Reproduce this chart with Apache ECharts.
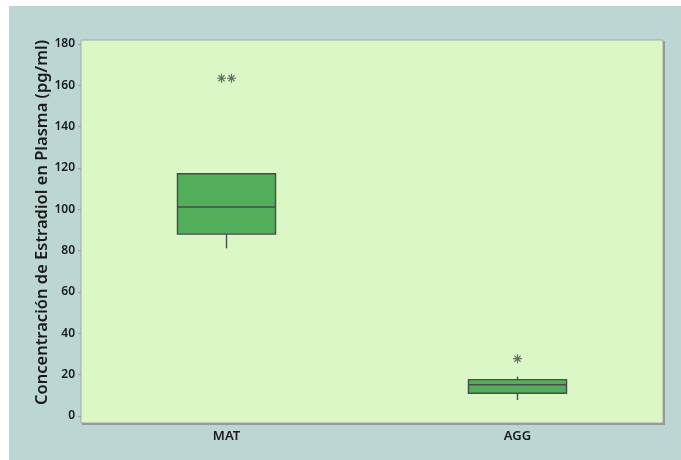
<!DOCTYPE html>
<html>
<head>
<meta charset="utf-8">
<script src="https://cdn.jsdelivr.net/npm/echarts@6/dist/echarts.min.js"></script>
<style>
  html, body { margin: 0; padding: 0; background: #ffffff; }
  #chart { position: absolute; left: 9px; top: 6px; width: 672px; height: 454px; }
</style>
</head>
<body>
<div id="chart"></div>
<script>
// Groups on the horizontal axis
const categories = ['MAT', 'AGG'];
// Box statistics per group: [lower whisker, Q1, median, Q3, upper whisker]
const boxStats = [
  [81.1, 88.0, 101.1, 117.2, 117.2],
  [7.7, 11.0, 15.1, 17.6, 19.0]
];
// Outliers: [group index, value, horizontal jitter in px]
const outlierGroup = [0, 0, 1];
const outlierValue = [163.4, 163.4, 27.7];
const outlierJitter = [-5, 5, 0];
// Tick labels of the vertical axis
const yTicks = [0, 20, 40, 60, 80, 100, 120, 140, 160, 180];

const chart = echarts.init(document.getElementById('chart'), null, { renderer: 'canvas' });

const boxData = boxStats.map((s, i) => [i].concat(s));
const outlierData = outlierValue.map((v, i) => ({
  value: [outlierGroup[i], v],
  symbolOffset: [outlierJitter[i], 0]
}));

const asterisk = 'path://M0,5L10,5M5,0L5,10M1.6,1.6L8.4,8.4M8.4,1.6L1.6,8.4';
const fontFamily = '"Noto Sans", "Open Sans", sans-serif';

chart.setOption({
  backgroundColor: '#bbd6d3',
  animation: false,
  grid: {
    left: 72, top: 34, right: 18, bottom: 37,
    show: true,
    backgroundColor: '#dbf7c5',
    borderColor: '#a6a6a6',
    borderWidth: 1
  },
  xAxis: {
    type: 'category',
    data: categories,
    boundaryGap: true,
    axisLine: { show: false, onZero: false },
    axisTick: { show: true, alignWithLabel: true, length: 3, lineStyle: { color: '#a0a0a0' } },
    axisLabel: { color: '#1a1a1a', fontSize: 13, fontWeight: 600, fontFamily: fontFamily, margin: 7 },
    splitLine: { show: false }
  },
  yAxis: {
    type: 'value',
    min: -3.4,
    max: 181.9,
    name: 'Concentración de Estradiol en Plasma (pg/ml)',
    nameLocation: 'middle',
    nameGap: 30,
    nameMoveOverlap: false,
    nameTextStyle: { color: '#1a1a1a', fontSize: 16.5, fontWeight: 600, fontFamily: fontFamily, padding: [0, 0, 0, 18] },
    axisLine: { show: false },
    axisTick: { show: true, length: 3, customValues: yTicks, lineStyle: { color: '#a0a0a0' } },
    axisLabel: { color: '#1a1a1a', fontSize: 12, fontWeight: 600, fontFamily: fontFamily, margin: 6, customValues: yTicks },
    splitLine: { show: false }
  },
  series: [
    {
      // Right and bottom shadow edge of the plot frame
      type: 'custom',
      silent: true,
      data: [[0]],
      renderItem: function (params, api) {
        const cs = params.coordSys;
        const r = cs.x + cs.width, b = cs.y + cs.height;
        const st = { stroke: '#9a9a9a', lineWidth: 2 };
        return {
          type: 'group',
          children: [
            { type: 'line', shape: { x1: r + 1, y1: cs.y + 1, x2: r + 1, y2: b + 2 }, style: st },
            { type: 'line', shape: { x1: cs.x + 1, y1: b + 1, x2: r + 2, y2: b + 1 }, style: st }
          ]
        };
      },
      z: 1
    },
    {
      type: 'custom',
      data: boxData,
      encode: { x: 0, y: [1, 2, 3, 4, 5] },
      renderItem: function (params, api) {
        const c = api.value(0);
        const lo = api.coord([c, api.value(1)]);
        const q1 = api.coord([c, api.value(2)]);
        const md = api.coord([c, api.value(3)]);
        const q3 = api.coord([c, api.value(4)]);
        const hi = api.coord([c, api.value(5)]);
        const half = api.size([1, 0])[0] * 0.337 / 2;
        const x = q1[0];
        const stroke = { stroke: '#4b4b4b', lineWidth: 1.4 };
        const children = [];
        if (lo[1] - q1[1] > 0.5) {
          children.push({ type: 'line', shape: { x1: x, y1: q1[1], x2: x, y2: lo[1] }, style: stroke });
        }
        if (q3[1] - hi[1] > 0.5) {
          children.push({ type: 'line', shape: { x1: x, y1: q3[1], x2: x, y2: hi[1] }, style: stroke });
        }
        children.push({
          type: 'rect',
          shape: { x: x - half, y: q3[1], width: half * 2, height: q1[1] - q3[1] },
          style: { fill: '#52ae5a', stroke: '#4b4b4b', lineWidth: 1.4 }
        });
        children.push({ type: 'line', shape: { x1: x - half, y1: md[1], x2: x + half, y2: md[1] }, style: stroke });
        return { type: 'group', children: children };
      },
      z: 2
    },
    {
      type: 'scatter',
      data: outlierData,
      symbol: asterisk,
      symbolSize: 9,
      itemStyle: { color: 'rgba(0,0,0,0)', borderColor: '#4b4b4b', borderWidth: 1.2 },
      z: 3
    }
  ]
});
</script>
</body>
</html>
